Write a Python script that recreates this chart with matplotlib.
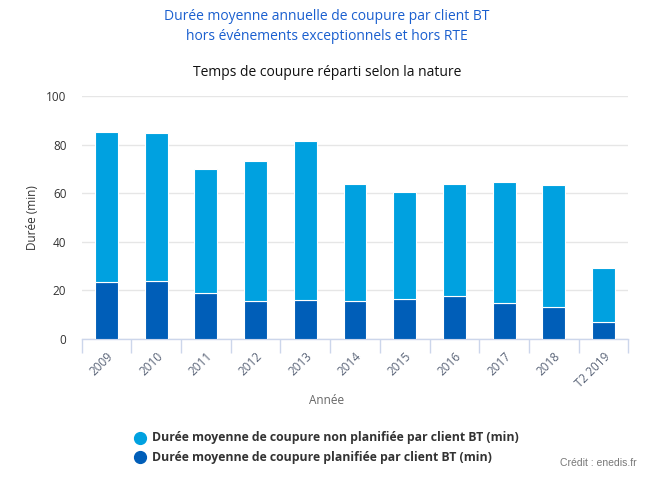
import matplotlib
matplotlib.use("Agg")
import matplotlib.pyplot as plt
import numpy as np

years = ["2009", "2010", "2011", "2012", "2013", "2014", "2015", "2016", "2017", "2018", "T2 2019"]
planifiee = [23.3, 23.7, 18.8, 15.5, 15.9, 15.5, 16.3, 17.6, 14.7, 13.0, 6.9]
non_planifiee = [61.9, 61.1, 51.2, 57.8, 65.6, 48.3, 44.3, 46.2, 50.0, 50.5, 22.4]

plt.rcParams['font.family'] = ['Open Sans', 'DejaVu Sans']

fig = plt.figure(figsize=(6.54, 4.79), dpi=100)
ax = fig.add_axes([81.7/654, 1-339/479, (628.3-81.7)/654, (339-96)/479])

x = np.arange(len(years))
c_light = '#00A1E0'
c_dark = '#005EB8'
ax.bar(x, planifiee, width=0.46, color=c_dark, edgecolor='white', linewidth=0.8, zorder=3)
ax.bar(x, non_planifiee, bottom=planifiee, width=0.46, color=c_light, edgecolor='white', linewidth=0.8, zorder=3)

ax.set_xlim(-0.5, len(years)-0.5)
ax.set_ylim(0, 100)
ax.set_yticks([0, 20, 40, 60, 80, 100])
ax.yaxis.grid(True, color='#e6e6e6', linewidth=1, zorder=0)
ax.tick_params(axis='y', length=0, labelsize=8.5, labelcolor='#333333', pad=11)
for lab in ax.get_yticklabels():
    lab.set_horizontalalignment('right')

ax.set_xticks(x)
ax.set_xticklabels(years, rotation=45, ha='right', rotation_mode='anchor')
ax.tick_params(axis='x', which='major', length=0, labelsize=8.5, labelcolor='#5a6478', pad=8)
ax.set_xticks(np.arange(-0.5, len(years)), minor=True)
ax.tick_params(axis='x', which='minor', length=10, color='#ccd6eb', width=1)

for s in ['top', 'right', 'left']:
    ax.spines[s].set_visible(False)
ax.spines['bottom'].set_color('#ccd6eb')
ax.spines['bottom'].set_linewidth(1)

ax.set_ylabel('Durée (min)', fontsize=8.5, color='#333333', labelpad=5)
fig.text(0.5, 1-401/479, 'Année', ha='center', va='center', fontsize=8.5, color='#666666')

fig.text(0.5, 1-17/479, 'Durée moyenne annuelle de coupure par client BT', ha='center', va='center',
         fontsize=10, color='#1A5FCF')
fig.text(0.5, 1-36/479, 'hors événements exceptionnels et hors RTE', ha='center', va='center',
         fontsize=10, color='#1A5FCF')
fig.text(0.5, 1-73/479, 'Temps de coupure réparti selon la nature', ha='center', va='center',
         fontsize=10, color='#111111')

# legend
for i, (lab, col) in enumerate([('Durée moyenne de coupure non planifiée par client BT (min)', c_light),
                                ('Durée moyenne de coupure planifiée par client BT (min)', c_dark)]):
    yy = 1 - (438 + 19*i)/479
    fig.add_artist(plt.Line2D([140/654], [yy], marker='o', markersize=8.5, color=col, linestyle='none',
                              transform=fig.transFigure))
    fig.text(152/654, yy, lab, ha='left', va='center', fontsize=8.8, fontweight='bold', color='#333333')

fig.text(637/654, 1-463/479, 'Crédit : enedis.fr', ha='right', va='center', fontsize=7.5,
         color='#777777', family=['Liberation Sans', 'DejaVu Sans'])

fig.savefig('out.png', dpi=100)
